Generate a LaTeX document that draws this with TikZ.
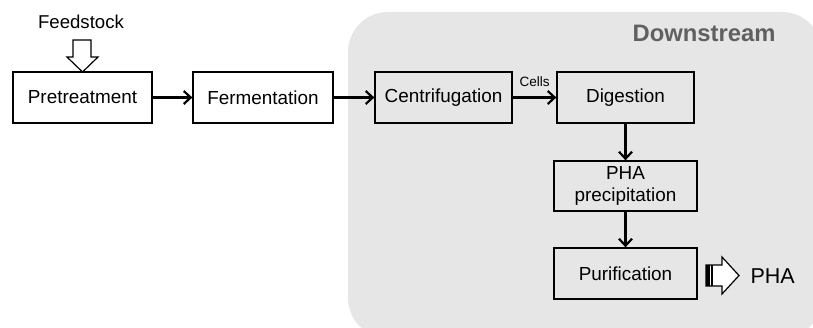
\documentclass[tikz,border=0pt]{standalone}
\usepackage{fontspec}
\setmainfont{Liberation Sans}
\usetikzlibrary{arrows.meta}
\definecolor{dsgray}{RGB}{230,230,230}
\definecolor{dstext}{RGB}{96,96,96}
\tikzset{
	stage/.style={draw, line width=1.3pt, minimum width=139pt, minimum height=51pt, inner sep=0pt, align=center, font=\fontsize{18.9}{21.5}\selectfont},
	flow/.style={line width=2.2pt, -{Straight Barb[length=7pt, width=13pt, line width=2.2pt]}},
	hollow/.style={line width=1.2pt, fill=white, line join=miter}
}

\begin{document}
\begin{tikzpicture}[x=1pt, y=-1pt]
		\useasboundingbox (0,0) rectangle (813,328);
		\clip (0,0) rectangle (813,328);
		% downstream block
		\fill[dsgray, rounded corners=40pt] (348,12) rectangle (822,338);
		\node[anchor=east, text=dstext, font=\bfseries\fontsize{23.8}{26}\selectfont] (ds) at (779,33) {Downstream};
		% process chain
		\node[stage, fill=white] (pre) at (82.5,97.5) {Pretreatment};
		\node[stage, fill=white, minimum width=140pt] (fer) at (263,97.5) {Fermentation};
		\node[stage, fill=dsgray, minimum width=137pt] (cen) at (443.5,97.5) {Centrifugation};
		\node[stage, fill=dsgray, minimum width=137pt] (dig) at (625.5,97.5) {Digestion};
		\node[stage, fill=dsgray, minimum width=143pt, minimum height=50pt] (prc) at (625.5,186) {PHA\\precipitation};
		\node[stage, fill=dsgray, minimum width=143pt] (pur) at (625.5,273.5) {Purification};
		\draw[flow] (pre) -- (fer);
		\draw[flow] (fer) -- (cen);
		\draw[flow] (cen) -- node[above=6pt, font=\fontsize{13.5}{15}\selectfont]{Cells} (dig);
		\draw[flow] (dig) -- (prc);
		\draw[flow] (prc) -- (pur);
		% feed in, product out
		\node[font=\fontsize{18.6}{21}\selectfont] (feed) at (81,22) {Feedstock};
		\draw[hollow] (73,40)--(91,40)--(91,57)--(98,57)--(82.5,72)--(67,57)--(73,57)--cycle;
		\draw[hollow] (706,265)--(722,265)--(722,257)--(739,275.5)--(722,294)--(722,286)--(706,286)--cycle;
		\fill (706,265) rectangle (709.5,286);
		\fill (711,265) rectangle (713,286);
		\node[anchor=west, font=\fontsize{21.5}{24}\selectfont] (pha) at (747,276) {PHA};
	\end{tikzpicture}
\end{document}
